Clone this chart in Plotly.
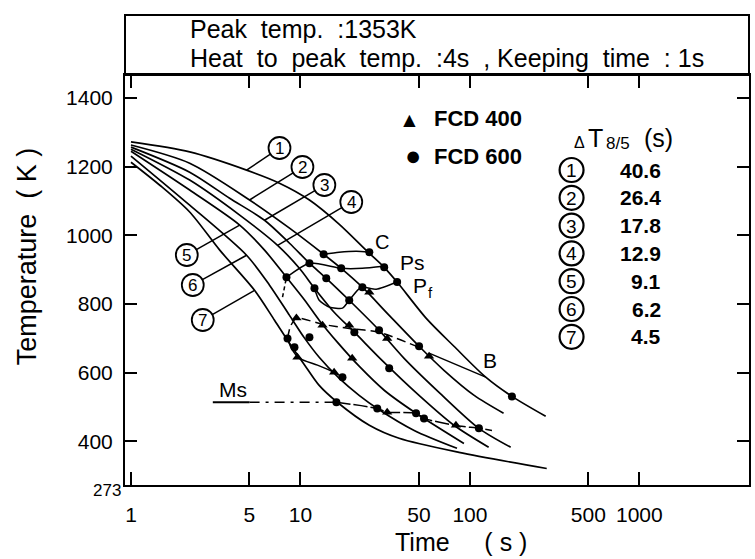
import numpy as np
import plotly.graph_objects as go

# ---------------- data (time in s, temperature in K) ----------------
c1_t = [1.0, 2.22, 4.81, 7.52, 11.3, 16.9, 25.1, 31.2, 37.2, 55.1, 80.5, 124, 177, 280]
c1_T = [1272, 1243, 1190, 1152, 1103, 1033, 951, 907, 864, 759, 677, 587, 531, 473]
c2_t = [1.0, 2.22, 5.01, 8.62, 13.7, 17.4, 23.2, 33.4, 50.1, 70.3, 106, 158]
c2_T = [1263, 1210, 1103, 1021, 945, 904, 849, 767, 677, 607, 534, 482]
c3_t = [1.0, 2.22, 3.82, 6.14, 8.62, 11.3, 14.2, 19.4, 29.1, 40.9, 65.7, 113, 174]
c3_T = [1257, 1184, 1108, 1044, 977, 919, 875, 811, 724, 642, 543, 438, 383]
c4_t = [1.0, 2.22, 4.38, 7.33, 9.86, 12.1, 15.8, 20.8, 30.3, 50.1, 80.5, 129]
c4_T = [1251, 1161, 1059, 971, 904, 846, 776, 718, 636, 534, 447, 383]
c5_t = [1.0, 2.22, 4.38, 6.14, 8.27, 10.6, 12.9, 16.5, 22.2, 31.2, 48.1, 92.2]
c5_T = [1245, 1132, 1030, 957, 878, 811, 753, 689, 619, 549, 482, 394]
c6_t = [1.0, 2.22, 4.81, 6.57, 8.62, 10.6, 12.9, 16.9, 22.2, 28.4, 46.9, 83.9]
c6_T = [1231, 1088, 942, 855, 767, 700, 645, 584, 534, 496, 432, 380]
c7_t = [1.0, 1.48, 2.22, 3.34, 5.36, 7.03, 8.62, 10.6, 12.9, 16.5, 25.5, 38.2, 86.2, 284]
c7_T = [1213, 1146, 1068, 957, 840, 753, 686, 622, 563, 514, 447, 409, 368, 321]
curves_t = [c1_t, c2_t, c3_t, c4_t, c5_t, c6_t, c7_t]
curves_T = [c1_T, c2_T, c3_T, c4_T, c5_T, c6_T, c7_T]

curve_numbers = ["1", "2", "3", "4", "5", "6", "7"]
dt85_values = ["40.6", "26.4", "17.8", "12.9", "9.1", "6.2", "4.5"]
label_pt_t = [4.81, 5.01, 6.14, 7.33, 4.38, 4.81, 5.36]
label_pt_T = [1190, 1103, 1044, 971, 1030, 942, 840]

# transformation lines
C_t = [13.7, 16.9, 21.4, 25.5]
C_T = [945, 951, 954, 951]
Ps_t = [8.27, 11.3, 17.4, 23.2, 30.8]
Ps_T = [878, 919, 904, 904, 910]
Pf_t = [12.1, 12.9, 14.8, 17.7, 19.4, 22.8, 28.0, 37.2]
Pf_T = [846, 811, 791, 788, 811, 849, 843, 864]
left_t = [7.84, 8.27]
left_T = [820, 878]
B_t = [8.39, 8.73, 9.47, 13.5, 19.4, 29.1, 50.1]
B_T = [700, 735, 759, 741, 729, 718, 674]
B2_t = [57.4, 124]
B2_T = [657, 587]
low_t = [8.39, 8.85, 9.86, 12.6, 15.8, 17.7]
low_T = [700, 671, 642, 622, 601, 587]
Ms1_t = [3.04, 5.01]
Ms1_T = [514, 514]
Ms2_t = [5.01, 16.3]
Ms2_T = [514, 514]
Ms3_t = [16.3, 28.4, 32.5, 48.1, 53.6, 80.5, 113, 135]
Ms3_T = [514, 496, 485, 482, 467, 447, 438, 432]

# FCD 600 (circles) and FCD 400 (triangles) transformation points
fcd600_t = [13.7, 25.5, 8.27, 11.3, 17.4, 31.2, 12.1, 14.2, 19.4, 23.2, 37.2,
            8.39, 9.22, 11.3, 20.8, 29.1, 50.1, 17.7, 33.4,
            16.3, 28.4, 48.1, 53.6, 113, 177]
fcd600_T = [945, 951, 878, 919, 904, 907, 846, 875, 811, 849, 864,
            700, 674, 703, 718, 724, 677, 587, 613,
            514, 496, 482, 467, 438, 531]
fcd400_t = [25.5, 9.47, 13.5, 19.4, 32.5, 57.4, 9.6, 15.8, 20.2, 32.5, 82.7]
fcd400_T = [834, 759, 738, 738, 700, 648, 645, 601, 642, 485, 447]

x_ticks = [1, 5, 10, 50, 100, 500, 1000]
y_ticks = [400, 600, 800, 1000, 1200, 1400]
y_min_label = "273"

# ---------------- figure ----------------
FONT = "Liberation Sans, Arial, Helvetica, sans-serif"
W, H = 755, 559
PL, PR, PT, PB = 125, 751, 75, 485
XR = [-0.0353, 3.647]
YR = [273, 1467]


def px(x):
    return (x - PL) / (PR - PL)


def py(y):
    return (PB - y) / (PB - PT)


def xpix(t):
    return PL + (np.log10(t) - XR[0]) / (XR[1] - XR[0]) * (PR - PL)


def ypix(T):
    return PB - (T - YR[0]) / (YR[1] - YR[0]) * (PB - PT)


fig = go.Figure()
for t, T in zip(curves_t, curves_T):
    fig.add_trace(go.Scatter(x=t, y=T, mode="lines",
                             line=dict(color="black", width=1.7, shape="spline", smoothing=0.8)))


def add_line(t, T, dash="solid", width=1.5, shape="spline"):
    fig.add_trace(go.Scatter(x=t, y=T, mode="lines",
                             line=dict(color="black", width=width, dash=dash, shape=shape, smoothing=0.6)))


add_line(C_t, C_T)
add_line(Ps_t, Ps_T)
add_line(Pf_t, Pf_T)
add_line(left_t, left_T, dash="4px,3px")
add_line(B_t, B_T, dash="9px,5px")
add_line(B2_t, B2_T)
add_line(low_t, low_T)
add_line(Ms1_t, Ms1_T, width=1.8, shape="linear")
add_line(Ms2_t, Ms2_T, dash="10px,6px,3px,6px", width=1.5, shape="linear")
add_line(Ms3_t, Ms3_T, dash="14px,3px", width=1.5)

fig.add_trace(go.Scatter(x=fcd600_t, y=fcd600_T, mode="markers",
                         marker=dict(symbol="circle", size=8, color="black")))
fig.add_trace(go.Scatter(x=fcd400_t, y=fcd400_T, mode="markers",
                         marker=dict(symbol="triangle-up", size=9, color="black")))

ann = []
shapes = []


def text(x, y, s, size, anchor="center", bold=False, angle=0):
    if bold:
        s = "<b>" + s + "</b>"
    ann.append(dict(x=px(x), y=py(y), xref="paper", yref="paper", text=s, showarrow=False,
                    xanchor=anchor, yanchor="middle", textangle=angle,
                    font=dict(family=FONT, size=size, color="black")))


def circled(cx, cy, r, num, size, lw):
    shapes.append(dict(type="circle", xref="paper", yref="paper",
                       x0=px(cx - r), x1=px(cx + r), y0=py(cy + r), y1=py(cy - r),
                       line=dict(color="black", width=lw)))
    text(cx, cy + 0.5, num, size)


# curve number labels with leader lines
label_centres = [(280, 148), (303, 167), (325, 185), (352, 202), (187, 255), (193, 285), (203, 320)]
R_LAB = 11
for num, t, T, (cx, cy) in zip(curve_numbers, label_pt_t, label_pt_T, label_centres):
    circled(cx, cy, R_LAB, num, 17, 1.8)
    ex, ey = xpix(t), ypix(T)
    d = np.hypot(ex - cx, ey - cy)
    sx, sy = cx + (ex - cx) * R_LAB / d, cy + (ey - cy) * R_LAB / d
    shapes.append(dict(type="line", xref="paper", yref="paper",
                       x0=px(sx), y0=py(sy), x1=px(ex), y1=py(ey),
                       line=dict(color="black", width=1.5)))

text(383, 242, "C", 20)
text(413, 262, "Ps", 21)
text(421, 285, "P", 21)
text(431, 292, "f", 15)
text(491, 360, "B", 21)
text(233, 389, "Ms", 21)

# legend
text(410, 119, "▲", 21)
text(433, 118, "FCD 400", 22, anchor="left", bold=True)
text(414, 156, "●", 27)
text(433, 156, "FCD 600", 22, anchor="left", bold=True)

# Delta T 8/5 table header
text(581, 142, "Δ", 16)
text(597, 138, "T", 25)
text(620, 143, "8/5", 17)
text(660, 138, "(s)", 25)
for i, (num, v) in enumerate(zip(curve_numbers, dt85_values)):
    y = 170 + 27.8 * i
    circled(573, y, 12, num, 19, 2.2)
    text(665, y, v, 21, anchor="right", bold=True)

# header
text(188, 29, "Peak\u00a0 temp.\u00a0 :1353K", 25, anchor="left")
text(188, 58, "Heat\u00a0 to\u00a0 peak\u00a0 temp.\u00a0 :4s\u00a0 ,\u00a0Keeping\u00a0 time\u00a0 :\u00a01s",
     25, anchor="left")

# axis titles and bottom-most y label
text(462, 542, "Time\u00a0\u00a0\u00a0\u00a0 (\u00a0s\u00a0)", 25)
text(27, 256, "Temperature\u00a0 (\u00a0K\u00a0)", 27, angle=-90)
text(123, 490, y_min_label, 17, anchor="right")

shapes.append(dict(type="rect", xref="paper", yref="paper", x0=0, x1=1, y0=1, y1=py(15),
                   line=dict(color="black", width=2)))

fig.update_layout(
    width=W, height=H, margin=dict(l=PL, r=W - PR, t=PT, b=H - PB),
    paper_bgcolor="white", plot_bgcolor="white", showlegend=False,
    annotations=ann, shapes=shapes,
    font=dict(family=FONT, color="black"),
)
fig.update_xaxes(type="log", range=XR,
                 tickvals=x_ticks, ticktext=[str(v) for v in x_ticks],
                 ticks="inside", ticklen=13, tickwidth=1.6, tickcolor="black",
                 showline=True, linecolor="black", linewidth=2, mirror="ticks",
                 showgrid=False, zeroline=False, tickfont=dict(size=21, family=FONT),
                 ticklabelstandoff=10)
fig.update_yaxes(range=YR, tickvals=y_ticks, ticktext=[str(v) for v in y_ticks],
                 ticks="inside", ticklen=12, tickwidth=1.6, tickcolor="black",
                 showline=True, linecolor="black", linewidth=2, mirror="ticks",
                 showgrid=False, zeroline=False, tickfont=dict(size=21, family=FONT),
                 ticklabelstandoff=6)

fig.write_html("out.html")
